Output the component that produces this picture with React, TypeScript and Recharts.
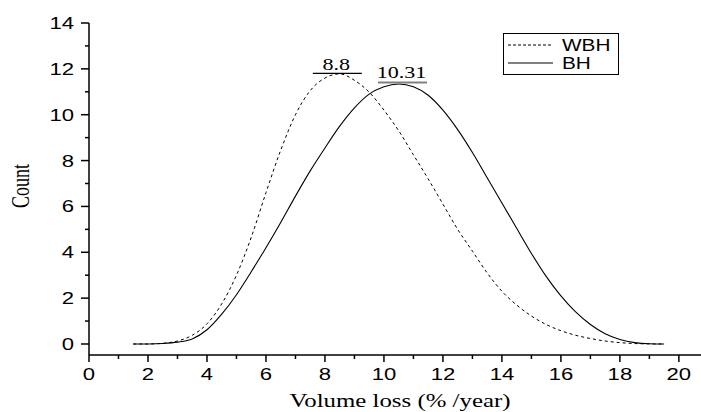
import React from 'react';
import { LineChart, Line, XAxis, YAxis, ReferenceLine, Legend } from 'recharts';

const xValues = [1.5, 2, 2.5, 3, 3.5, 4, 4.5, 5, 5.5, 6, 6.5, 7, 7.5, 8, 8.5, 9, 9.5, 10, 10.5, 11, 11.5, 12, 12.5, 13, 13.5, 14, 14.5, 15, 15.5, 16, 16.5, 17, 17.5, 18, 18.5, 19, 19.5];
const wbhValues = [0, 0, 0.03, 0.13, 0.38, 0.88, 1.75, 3.0, 4.65, 6.6, 8.45, 10.0, 11.05, 11.6, 11.78, 11.5, 10.98, 10.2, 9.3, 8.25, 7.2, 6.1, 5.0, 4.05, 3.1, 2.3, 1.7, 1.22, 0.85, 0.58, 0.38, 0.24, 0.13, 0.06, 0.02, 0.005, 0];
const bhValues = [0, 0, 0.02, 0.08, 0.22, 0.62, 1.3, 2.15, 3.15, 4.2, 5.3, 6.45, 7.55, 8.55, 9.5, 10.3, 10.9, 11.22, 11.34, 11.22, 10.85, 10.2, 9.35, 8.35, 7.25, 6.15, 5.05, 3.95, 2.95, 2.1, 1.4, 0.85, 0.45, 0.2, 0.06, 0.01, 0];

const seriesNames = ['WBH', 'BH'];
const xTicks = [0, 1, 2, 3, 4, 5, 6, 7, 8, 9, 10, 11, 12, 13, 14, 15, 16, 17, 18, 19, 20];
const yTicks = [0, 1, 2, 3, 4, 5, 6, 7, 8, 9, 10, 11, 12, 13, 14];

const peakLabels = [
  { text: '8.8', x1: 7.59, x2: 9.25, y: 11.8, color: '#000000', gap: 3 },
  { text: '10.31', x1: 9.8, x2: 11.46, y: 11.4, color: '#808080', gap: 4.5 },
];

const data = xValues.map((x, i) => ({ x, WBH: wbhValues[i], BH: bhValues[i] }));

const SANS = '"Liberation Sans", Arial, sans-serif';
const SERIF = '"Liberation Serif", "Times New Roman", serif';
const STRETCH = 1.38;

const XTick = (props: any) => {
  const { x, y, payload } = props;
  const v = payload.value;
  const major = v % 2 === 0;
  return (
    <g>
      <line x1={x} y1={y} x2={x} y2={y + (major ? 7 : 4)} stroke="#000" strokeWidth={1.5} />
      {major && (
        <text transform={`translate(${x},${y + 25}) scale(${STRETCH},1)`} textAnchor="middle" fontFamily={SANS} fontSize={16} fill="#000">
          {v}
        </text>
      )}
    </g>
  );
};

const YTick = (props: any) => {
  const { x, y, payload } = props;
  const v = payload.value;
  const major = v % 2 === 0;
  return (
    <g>
      <line x1={x} y1={y} x2={x - (major ? 8 : 4)} y2={y} stroke="#000" strokeWidth={1.5} />
      {major && (
        <text transform={`translate(${x - 15},${y + 6}) scale(${STRETCH},1)`} textAnchor="end" fontFamily={SANS} fontSize={16} fill="#000">
          {v}
        </text>
      )}
    </g>
  );
};

const XTitle = (props: any) => {
  const vb = props.viewBox || { x: 89, y: 355, width: 612, height: 57 };
  return (
    <text transform={`translate(${vb.x + vb.width / 2 + 5},${vb.y + 52}) scale(${STRETCH},1)`} textAnchor="middle" fontFamily={SERIF} fontSize={18} fill="#000">
      Volume loss (% /year)
    </text>
  );
};

const YTitle = (props: any) => {
  const vb = props.viewBox || { x: 0, y: 23, width: 89, height: 332 };
  return (
    <text transform={`translate(${vb.x + 29},${vb.y + vb.height / 2 - 3}) scale(${STRETCH},1) rotate(-90)`} textAnchor="middle" fontFamily={SERIF} fontSize={18} fill="#000">
      Count
    </text>
  );
};

const PeakText = (props: any) => {
  const vb = props.viewBox || { x: 0, y: 0, width: 0, height: 0 };
  return (
    <text transform={`translate(${vb.x + vb.width / 2 - 1},${vb.y - props.gap}) scale(${STRETCH},1)`} textAnchor="middle" fontFamily={SERIF} fontSize={16} fill="#000">
      {props.text}
    </text>
  );
};

const LegendBox = () => (
  <svg width={116} height={42} style={{ display: 'block' }}>
    <rect x={0.5} y={0.5} width={115} height={41} fill="#fff" stroke="#000" strokeWidth={1} />
    {seriesNames.map((name, i) => (
      <g key={name}>
        <line x1={5} x2={50} y1={12 + i * 18} y2={12 + i * 18} stroke="#000" strokeWidth={1} strokeDasharray={i === 0 ? '3 2' : undefined} />
        <text transform={`translate(59,${18 + i * 18}) scale(1.3,1)`} fontFamily={SANS} fontSize={16} fill="#000">
          {name}
        </text>
      </g>
    ))}
  </svg>
);

export default function App() {
  return (
    <div style={{ position: 'absolute', left: 0, top: 0, width: 701, height: 412, background: '#fff' }}>
      <LineChart width={701} height={412} data={data} margin={{ top: 23, right: 0, left: 0, bottom: 0 }}>
        <XAxis
          dataKey="x"
          type="number"
          domain={[0, 20.75]}
          ticks={xTicks}
          interval={0}
          allowDataOverflow
          height={57}
          tickSize={0}
          tickMargin={0}
          tickLine={false}
          tick={<XTick />}
          axisLine={{ stroke: '#000', strokeWidth: 1.5 }}
          label={<XTitle />}
        />
        <YAxis
          type="number"
          domain={[-0.48, 14]}
          ticks={yTicks}
          interval={0}
          allowDataOverflow
          width={89}
          tickSize={0}
          tickMargin={0}
          tickLine={false}
          tick={<YTick />}
          axisLine={{ stroke: '#000', strokeWidth: 1.5 }}
          label={<YTitle />}
        />
        <Line type="monotone" dataKey="WBH" name="WBH" stroke="#000" strokeWidth={1} strokeDasharray="3 3" dot={false} isAnimationActive={false} />
        <Line type="monotone" dataKey="BH" name="BH" stroke="#000" strokeWidth={1.1} dot={false} isAnimationActive={false} />
        {peakLabels.map((p) => (
          <ReferenceLine
            key={p.text}
            segment={[{ x: p.x1, y: p.y }, { x: p.x2, y: p.y }]}
            stroke={p.color}
            strokeWidth={p.color === '#000000' ? 1.2 : 2}
            ifOverflow="visible"
            label={<PeakText text={p.text} gap={p.gap} />}
          />
        ))}
        <Legend
          layout="vertical"
          align="center"
          verticalAlign="middle"
          width={116}
          height={42}
          wrapperStyle={{ left: 503, top: 33, width: 116, height: 42 }}
          content={() => <LegendBox />}
        />
      </LineChart>
    </div>
  );
}
